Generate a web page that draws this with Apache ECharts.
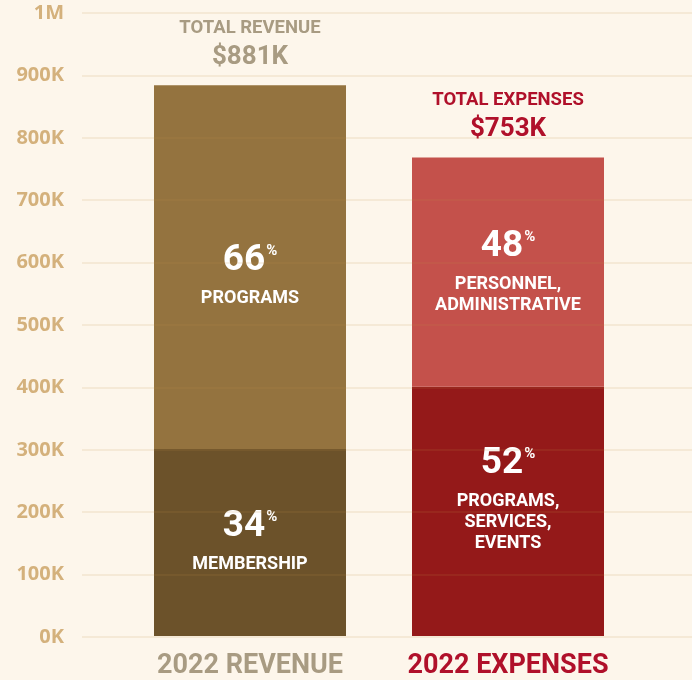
<!DOCTYPE html>
<html><head><meta charset="utf-8">
<script src="https://cdn.jsdelivr.net/npm/echarts@6/dist/echarts.min.js"></script>
<style>html,body{margin:0;padding:0;background:#fdf6eb}#c{width:692px;height:680px}</style>
</head><body><div id="c"></div>
<script>
const categories = ['2022 REVENUE', '2022 EXPENSES'];
const categoryColors = ['#a89b82', '#b0102a'];
const lowerValues = [300, 400];       // membership, programs/services/events (K)
const upperValues = [584, 368];       // programs, personnel/administrative (K)
const lowerPct = ['34', '52'];
const upperPct = ['66', '48'];
const lowerNames = ['MEMBERSHIP', 'PROGRAMS,\nSERVICES,\nEVENTS'];
const upperNames = ['PROGRAMS', 'PERSONNEL,\nADMINISTRATIVE'];
const totalTitles = ['TOTAL REVENUE', 'TOTAL EXPENSES'];
const totalValues = ['$881K', '$753K'];
const zeroValues = [0, 0];
const yTickLabels = ['0K','100K','200K','300K','400K','500K','600K','700K','800K','900K','1M'];

// styling
const lowerColors = ['#6c522a', '#941919'];
const upperColors = ['#94733f', '#c4514b'];
const lowerLabelShift = [-5, -16];
const upperLabelShift = [4, -4];

function segLabel(pcts, names) {
  return {
    show: true, position: 'inside', color: '#fff', fontFamily: 'Roboto',
    formatter: p => '{pct|' + pcts[p.dataIndex] + '}{sup|%}\n' +
      names[p.dataIndex].split('\n').map(s => '{name|' + s + '}').join('\n'),
    rich: {
      pct: { fontSize: 37, fontWeight: 'bold', color: '#fff', fontFamily: 'Roboto', lineHeight: 54 },
      sup: { fontSize: 15, fontWeight: 'bold', color: '#fff', fontFamily: 'Roboto', verticalAlign: 'top', lineHeight: 18, padding: [10, 0, 0, 1] },
      name: { fontSize: 18, fontWeight: 'bold', color: '#fff', fontFamily: 'Roboto', lineHeight: 21 }
    }
  };
}

const chart = echarts.init(document.getElementById('c'));
chart.setOption({
  backgroundColor: '#fdf6eb',
  animation: false,
  grid: [
    { left: 82, right: 0, top: 13, bottom: 43 },
    { left: 121, width: 516, top: 13, bottom: 43 }
  ],
  xAxis: [
    { gridIndex: 0, type: 'category', data: categories, show: false },
    { gridIndex: 1, type: 'category',
      data: categories.map((c, i) => ({ value: c, textStyle: { color: categoryColors[i] } })),
      axisLine: { show: false }, axisTick: { show: false },
      axisLabel: { interval: 0, fontFamily: 'Roboto', fontWeight: 'bold', fontSize: 27, margin: 17 } }
  ],
  yAxis: [
    { gridIndex: 0, type: 'value', min: 0, max: 1000, interval: 100, z: 5,
      axisLine: { show: false }, axisTick: { show: false },
      splitLine: { lineStyle: { color: 'rgba(190,140,70,0.17)', width: 1.5 } },
      axisLabel: { fontFamily: 'Noto Sans', fontWeight: 'bold', fontSize: 20, color: '#d4b17c', margin: 18,
        formatter: v => yTickLabels[Math.round(v / 100)] } },
    { gridIndex: 1, type: 'value', min: 0, max: 1000, interval: 100, show: false }
  ],
  series: [
    { type: 'bar', xAxisIndex: 1, yAxisIndex: 1, stack: 'a', barWidth: 192,
      data: lowerValues.map((v, i) => ({ value: v, itemStyle: { color: lowerColors[i] }, label: { offset: [0, lowerLabelShift[i]] } })),
      label: segLabel(lowerPct, lowerNames) },
    { type: 'bar', xAxisIndex: 1, yAxisIndex: 1, stack: 'a', barWidth: 192,
      data: upperValues.map((v, i) => ({ value: v, itemStyle: { color: upperColors[i] }, label: { offset: [0, upperLabelShift[i]] } })),
      label: segLabel(upperPct, upperNames) },
    { type: 'bar', xAxisIndex: 1, yAxisIndex: 1, stack: 'a', barWidth: 192,
      data: zeroValues,
      label: { show: true, position: 'top', distance: 13,
        formatter: p => '{t' + p.dataIndex + '|' + totalTitles[p.dataIndex] + '}\n{v' + p.dataIndex + '|' + totalValues[p.dataIndex] + '}',
        rich: {
          t0: { fontFamily: 'Roboto', fontWeight: 'bold', fontSize: 18.5, color: '#a89b82', lineHeight: 28 },
          v0: { fontFamily: 'Roboto', fontWeight: 'bold', fontSize: 26, color: '#a89b82', lineHeight: 30 },
          t1: { fontFamily: 'Roboto', fontWeight: 'bold', fontSize: 18.5, color: '#b0102a', lineHeight: 28 },
          v1: { fontFamily: 'Roboto', fontWeight: 'bold', fontSize: 26, color: '#b0102a', lineHeight: 30 }
        } } }
  ]
});
</script></body></html>
